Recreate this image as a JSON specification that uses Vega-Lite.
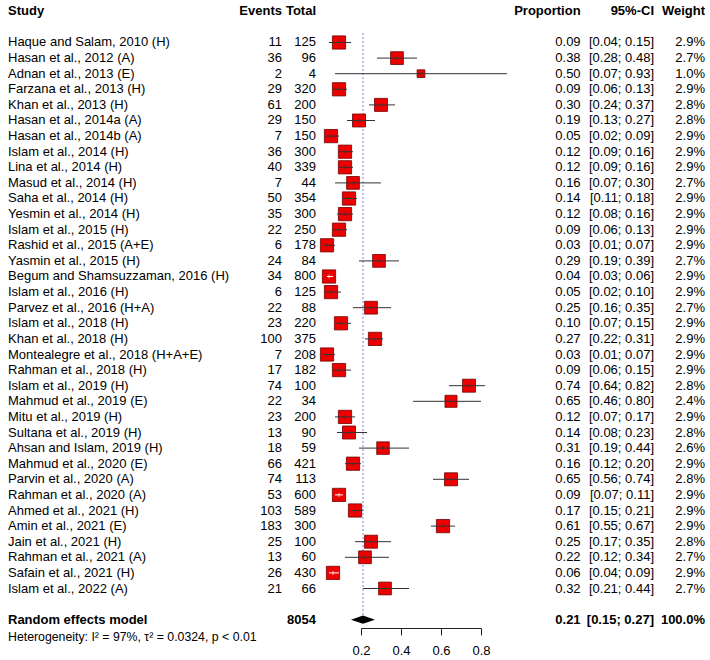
{
  "$schema": "https://vega.github.io/schema/vega-lite/v6.json",
  "padding": {"left": 8, "top": 1, "right": 0, "bottom": 0},
  "bounds": "flush",
  "spacing": 0,
  "config": {
    "view": {"stroke": null},
    "text": {"font": "Liberation Sans", "fontSize": 13, "color": "black"},
    "axisX": {"labelOverlap": false, "labelFlush": false, "labelBound": false}
  },
  "datasets": {
    "rows": [
      {"kind": "study", "study": "Haque and Salam, 2010 (H)", "events": 11, "total": 125, "prop": 0.09, "lo": 0.04, "hi": 0.15, "w": 0.029},
      {"kind": "study", "study": "Hasan et al., 2012 (A)", "events": 36, "total": 96, "prop": 0.38, "lo": 0.28, "hi": 0.48, "w": 0.027},
      {"kind": "study", "study": "Adnan et al., 2013 (E)", "events": 2, "total": 4, "prop": 0.50, "lo": 0.07, "hi": 0.93, "w": 0.010},
      {"kind": "study", "study": "Farzana et al., 2013 (H)", "events": 29, "total": 320, "prop": 0.09, "lo": 0.06, "hi": 0.13, "w": 0.029},
      {"kind": "study", "study": "Khan et al., 2013 (H)", "events": 61, "total": 200, "prop": 0.30, "lo": 0.24, "hi": 0.37, "w": 0.028},
      {"kind": "study", "study": "Hasan et al., 2014a (A)", "events": 29, "total": 150, "prop": 0.19, "lo": 0.13, "hi": 0.27, "w": 0.028},
      {"kind": "study", "study": "Hasan et al., 2014b (A)", "events": 7, "total": 150, "prop": 0.05, "lo": 0.02, "hi": 0.09, "w": 0.029},
      {"kind": "study", "study": "Islam et al., 2014 (H)", "events": 36, "total": 300, "prop": 0.12, "lo": 0.09, "hi": 0.16, "w": 0.029},
      {"kind": "study", "study": "Lina et al., 2014 (H)", "events": 40, "total": 339, "prop": 0.12, "lo": 0.09, "hi": 0.16, "w": 0.029},
      {"kind": "study", "study": "Masud et al., 2014 (H)", "events": 7, "total": 44, "prop": 0.16, "lo": 0.07, "hi": 0.30, "w": 0.027},
      {"kind": "study", "study": "Saha et al., 2014 (H)", "events": 50, "total": 354, "prop": 0.14, "lo": 0.11, "hi": 0.18, "w": 0.029},
      {"kind": "study", "study": "Yesmin et al., 2014 (H)", "events": 35, "total": 300, "prop": 0.12, "lo": 0.08, "hi": 0.16, "w": 0.029},
      {"kind": "study", "study": "Islam et al., 2015 (H)", "events": 22, "total": 250, "prop": 0.09, "lo": 0.06, "hi": 0.13, "w": 0.029},
      {"kind": "study", "study": "Rashid et al., 2015 (A+E)", "events": 6, "total": 178, "prop": 0.03, "lo": 0.01, "hi": 0.07, "w": 0.029},
      {"kind": "study", "study": "Yasmin et al., 2015 (H)", "events": 24, "total": 84, "prop": 0.29, "lo": 0.19, "hi": 0.39, "w": 0.027},
      {"kind": "study", "study": "Begum and Shamsuzzaman, 2016 (H)", "events": 34, "total": 800, "prop": 0.04, "lo": 0.03, "hi": 0.06, "w": 0.029},
      {"kind": "study", "study": "Islam et al., 2016 (H)", "events": 6, "total": 125, "prop": 0.05, "lo": 0.02, "hi": 0.10, "w": 0.029},
      {"kind": "study", "study": "Parvez et al., 2016 (H+A)", "events": 22, "total": 88, "prop": 0.25, "lo": 0.16, "hi": 0.35, "w": 0.027},
      {"kind": "study", "study": "Islam et al., 2018 (H)", "events": 23, "total": 220, "prop": 0.10, "lo": 0.07, "hi": 0.15, "w": 0.029},
      {"kind": "study", "study": "Khan et al., 2018 (H)", "events": 100, "total": 375, "prop": 0.27, "lo": 0.22, "hi": 0.31, "w": 0.029},
      {"kind": "study", "study": "Montealegre et al., 2018 (H+A+E)", "events": 7, "total": 208, "prop": 0.03, "lo": 0.01, "hi": 0.07, "w": 0.029},
      {"kind": "study", "study": "Rahman et al., 2018 (H)", "events": 17, "total": 182, "prop": 0.09, "lo": 0.06, "hi": 0.15, "w": 0.029},
      {"kind": "study", "study": "Islam et al., 2019 (H)", "events": 74, "total": 100, "prop": 0.74, "lo": 0.64, "hi": 0.82, "w": 0.028},
      {"kind": "study", "study": "Mahmud et al., 2019 (E)", "events": 22, "total": 34, "prop": 0.65, "lo": 0.46, "hi": 0.80, "w": 0.024},
      {"kind": "study", "study": "Mitu et al., 2019 (H)", "events": 23, "total": 200, "prop": 0.12, "lo": 0.07, "hi": 0.17, "w": 0.029},
      {"kind": "study", "study": "Sultana et al., 2019 (H)", "events": 13, "total": 90, "prop": 0.14, "lo": 0.08, "hi": 0.23, "w": 0.028},
      {"kind": "study", "study": "Ahsan and Islam, 2019 (H)", "events": 18, "total": 59, "prop": 0.31, "lo": 0.19, "hi": 0.44, "w": 0.026},
      {"kind": "study", "study": "Mahmud et al., 2020 (E)", "events": 66, "total": 421, "prop": 0.16, "lo": 0.12, "hi": 0.20, "w": 0.029},
      {"kind": "study", "study": "Parvin et al., 2020 (A)", "events": 74, "total": 113, "prop": 0.65, "lo": 0.56, "hi": 0.74, "w": 0.028},
      {"kind": "study", "study": "Rahman et al., 2020 (A)", "events": 53, "total": 600, "prop": 0.09, "lo": 0.07, "hi": 0.11, "w": 0.029},
      {"kind": "study", "study": "Ahmed et al., 2021 (H)", "events": 103, "total": 589, "prop": 0.17, "lo": 0.15, "hi": 0.21, "w": 0.029},
      {"kind": "study", "study": "Amin et al., 2021 (E)", "events": 183, "total": 300, "prop": 0.61, "lo": 0.55, "hi": 0.67, "w": 0.029},
      {"kind": "study", "study": "Jain et al., 2021 (H)", "events": 25, "total": 100, "prop": 0.25, "lo": 0.17, "hi": 0.35, "w": 0.028},
      {"kind": "study", "study": "Rahman et al., 2021 (A)", "events": 13, "total": 60, "prop": 0.22, "lo": 0.12, "hi": 0.34, "w": 0.027},
      {"kind": "study", "study": "Safain et al., 2021 (H)", "events": 26, "total": 430, "prop": 0.06, "lo": 0.04, "hi": 0.09, "w": 0.029},
      {"kind": "study", "study": "Islam et al., 2022 (A)", "events": 21, "total": 66, "prop": 0.32, "lo": 0.21, "hi": 0.44, "w": 0.027},
      {"kind": "pooled", "study": "Random effects model", "total": 8054, "prop": 0.21, "lo": 0.15, "hi": 0.27, "w": 1.0}
    ]
  },
  "hconcat": [
    {
      "width": 242,
      "height": 644.6,
      "data": {"name": "rows"},
      "encoding": {
        "y": {"field": "study", "type": "ordinal", "axis": null,
          "scale": {"type": "point", "padding": 0.66, "domain": ["hdr", "sp1", "Haque and Salam, 2010 (H)", "Hasan et al., 2012 (A)", "Adnan et al., 2013 (E)", "Farzana et al., 2013 (H)", "Khan et al., 2013 (H)", "Hasan et al., 2014a (A)", "Hasan et al., 2014b (A)", "Islam et al., 2014 (H)", "Lina et al., 2014 (H)", "Masud et al., 2014 (H)", "Saha et al., 2014 (H)", "Yesmin et al., 2014 (H)", "Islam et al., 2015 (H)", "Rashid et al., 2015 (A+E)", "Yasmin et al., 2015 (H)", "Begum and Shamsuzzaman, 2016 (H)", "Islam et al., 2016 (H)", "Parvez et al., 2016 (H+A)", "Islam et al., 2018 (H)", "Khan et al., 2018 (H)", "Montealegre et al., 2018 (H+A+E)", "Rahman et al., 2018 (H)", "Islam et al., 2019 (H)", "Mahmud et al., 2019 (E)", "Mitu et al., 2019 (H)", "Sultana et al., 2019 (H)", "Ahsan and Islam, 2019 (H)", "Mahmud et al., 2020 (E)", "Parvin et al., 2020 (A)", "Rahman et al., 2020 (A)", "Ahmed et al., 2021 (H)", "Amin et al., 2021 (E)", "Jain et al., 2021 (H)", "Rahman et al., 2021 (A)", "Safain et al., 2021 (H)", "Islam et al., 2022 (A)", "sp2", "Random effects model", "het"]}}
      },
      "layer": [
        {"data": {"values": [{"study": "hdr"}]}, "mark": {"type": "text", "align": "left", "x": 0, "fontWeight": "bold"}, "encoding": {"text": {"value": "Study"}}},
        {"transform": [{"filter": "datum.kind == 'study'"}], "mark": {"type": "text", "align": "left", "x": 0}, "encoding": {"text": {"field": "study"}}},
        {"transform": [{"filter": "datum.kind == 'pooled'"}], "mark": {"type": "text", "align": "left", "x": 0, "fontWeight": "bold"}, "encoding": {"text": {"field": "study"}}},
        {"data": {"values": [{"study": "het"}]}, "mark": {"type": "text", "align": "left", "x": 0, "fontSize": 12.3, "dy": 2}, "encoding": {"text": {"value": "Heterogeneity: I² = 97%, τ² = 0.0324, p < 0.01"}}}
      ]
    },
    {
      "width": 32,
      "height": 629,
      "data": {"name": "rows"},
      "encoding": {
        "y": {"field": "study", "type": "ordinal", "axis": null,
          "scale": {"type": "point", "padding": 0.66, "domain": ["hdr", "sp1", "Haque and Salam, 2010 (H)", "Hasan et al., 2012 (A)", "Adnan et al., 2013 (E)", "Farzana et al., 2013 (H)", "Khan et al., 2013 (H)", "Hasan et al., 2014a (A)", "Hasan et al., 2014b (A)", "Islam et al., 2014 (H)", "Lina et al., 2014 (H)", "Masud et al., 2014 (H)", "Saha et al., 2014 (H)", "Yesmin et al., 2014 (H)", "Islam et al., 2015 (H)", "Rashid et al., 2015 (A+E)", "Yasmin et al., 2015 (H)", "Begum and Shamsuzzaman, 2016 (H)", "Islam et al., 2016 (H)", "Parvez et al., 2016 (H+A)", "Islam et al., 2018 (H)", "Khan et al., 2018 (H)", "Montealegre et al., 2018 (H+A+E)", "Rahman et al., 2018 (H)", "Islam et al., 2019 (H)", "Mahmud et al., 2019 (E)", "Mitu et al., 2019 (H)", "Sultana et al., 2019 (H)", "Ahsan and Islam, 2019 (H)", "Mahmud et al., 2020 (E)", "Parvin et al., 2020 (A)", "Rahman et al., 2020 (A)", "Ahmed et al., 2021 (H)", "Amin et al., 2021 (E)", "Jain et al., 2021 (H)", "Rahman et al., 2021 (A)", "Safain et al., 2021 (H)", "Islam et al., 2022 (A)", "sp2", "Random effects model"]}}
      },
      "layer": [
        {"data": {"values": [{"study": "hdr"}]}, "mark": {"type": "text", "align": "right", "x": "width", "fontWeight": "bold"}, "encoding": {"text": {"value": "Events"}}},
        {"transform": [{"filter": "datum.kind == 'study'"}], "mark": {"type": "text", "align": "right", "x": "width"}, "encoding": {"text": {"field": "events", "type": "quantitative", "format": "d"}}}
      ]
    },
    {
      "width": 34,
      "height": 629,
      "data": {"name": "rows"},
      "encoding": {
        "y": {"field": "study", "type": "ordinal", "axis": null,
          "scale": {"type": "point", "padding": 0.66, "domain": ["hdr", "sp1", "Haque and Salam, 2010 (H)", "Hasan et al., 2012 (A)", "Adnan et al., 2013 (E)", "Farzana et al., 2013 (H)", "Khan et al., 2013 (H)", "Hasan et al., 2014a (A)", "Hasan et al., 2014b (A)", "Islam et al., 2014 (H)", "Lina et al., 2014 (H)", "Masud et al., 2014 (H)", "Saha et al., 2014 (H)", "Yesmin et al., 2014 (H)", "Islam et al., 2015 (H)", "Rashid et al., 2015 (A+E)", "Yasmin et al., 2015 (H)", "Begum and Shamsuzzaman, 2016 (H)", "Islam et al., 2016 (H)", "Parvez et al., 2016 (H+A)", "Islam et al., 2018 (H)", "Khan et al., 2018 (H)", "Montealegre et al., 2018 (H+A+E)", "Rahman et al., 2018 (H)", "Islam et al., 2019 (H)", "Mahmud et al., 2019 (E)", "Mitu et al., 2019 (H)", "Sultana et al., 2019 (H)", "Ahsan and Islam, 2019 (H)", "Mahmud et al., 2020 (E)", "Parvin et al., 2020 (A)", "Rahman et al., 2020 (A)", "Ahmed et al., 2021 (H)", "Amin et al., 2021 (E)", "Jain et al., 2021 (H)", "Rahman et al., 2021 (A)", "Safain et al., 2021 (H)", "Islam et al., 2022 (A)", "sp2", "Random effects model"]}}
      },
      "layer": [
        {"data": {"values": [{"study": "hdr"}]}, "mark": {"type": "text", "align": "right", "x": "width", "fontWeight": "bold"}, "encoding": {"text": {"value": "Total"}}},
        {"transform": [{"filter": "datum.kind == 'study'"}], "mark": {"type": "text", "align": "right", "x": "width"}, "encoding": {"text": {"field": "total", "type": "quantitative", "format": "d"}}},
        {"transform": [{"filter": "datum.kind == 'pooled'"}], "mark": {"type": "text", "align": "right", "x": "width", "fontWeight": "bold"}, "encoding": {"text": {"field": "total", "type": "quantitative", "format": "d"}}}
      ]
    },
    {
      "width": 44.7,
      "height": 10,
      "data": {"values": [{"a": 1}]},
      "mark": {"type": "point", "opacity": 0},
      "encoding": {}
    },
    {
      "width": 120,
      "height": 629,
      "data": {"name": "rows"},
      "encoding": {
        "y": {"field": "study", "type": "ordinal", "axis": null,
          "scale": {"type": "point", "padding": 0.66, "domain": ["hdr", "sp1", "Haque and Salam, 2010 (H)", "Hasan et al., 2012 (A)", "Adnan et al., 2013 (E)", "Farzana et al., 2013 (H)", "Khan et al., 2013 (H)", "Hasan et al., 2014a (A)", "Hasan et al., 2014b (A)", "Islam et al., 2014 (H)", "Lina et al., 2014 (H)", "Masud et al., 2014 (H)", "Saha et al., 2014 (H)", "Yesmin et al., 2014 (H)", "Islam et al., 2015 (H)", "Rashid et al., 2015 (A+E)", "Yasmin et al., 2015 (H)", "Begum and Shamsuzzaman, 2016 (H)", "Islam et al., 2016 (H)", "Parvez et al., 2016 (H+A)", "Islam et al., 2018 (H)", "Khan et al., 2018 (H)", "Montealegre et al., 2018 (H+A+E)", "Rahman et al., 2018 (H)", "Islam et al., 2019 (H)", "Mahmud et al., 2019 (E)", "Mitu et al., 2019 (H)", "Sultana et al., 2019 (H)", "Ahsan and Islam, 2019 (H)", "Mahmud et al., 2020 (E)", "Parvin et al., 2020 (A)", "Rahman et al., 2020 (A)", "Ahmed et al., 2021 (H)", "Amin et al., 2021 (E)", "Jain et al., 2021 (H)", "Rahman et al., 2021 (A)", "Safain et al., 2021 (H)", "Islam et al., 2022 (A)", "sp2", "Random effects model"]}}
      },
      "layer": [
        {
          "data": {"values": [{"ref": 0.21}]},
          "mark": {"type": "rule", "strokeDash": [2, 2], "color": "#7f7fd6", "strokeWidth": 1, "yOffset": -9.5, "y2Offset": -3},
          "encoding": {
            "x": {"field": "ref", "type": "quantitative", "scale": {"domain": [0.2, 0.8], "nice": false, "zero": false},
              "axis": {"title": null, "values": [0.2, 0.4, 0.6, 0.8], "format": ".1f", "grid": false, "tickSize": 7, "labelFontSize": 13, "labelFont": "Liberation Sans", "labelColor": "black", "domainColor": "#222", "tickColor": "#222", "labelPadding": 9, "labelFlush": false, "labelOverlap": false, "labelBound": false, "offset": -2}},
            "y": {"datum": "Haque and Salam, 2010 (H)"},
            "y2": {"datum": "Random effects model"}
          }
        },
        {
          "transform": [{"filter": "datum.kind == 'study'"}],
          "mark": {"type": "square", "filled": true, "fill": "#ee0000", "stroke": "#6e0000", "strokeWidth": 0.8, "opacity": 1},
          "encoding": {
            "x": {"field": "prop", "type": "quantitative", "scale": {"domain": [0.2, 0.8], "nice": false, "zero": false},
              "axis": {"title": null, "values": [0.2, 0.4, 0.6, 0.8], "format": ".1f", "grid": false, "tickSize": 7, "labelFontSize": 13, "labelFont": "Liberation Sans", "labelColor": "black", "domainColor": "#222", "tickColor": "#222", "labelPadding": 9, "labelFlush": false, "labelOverlap": false, "labelBound": false, "offset": -2}},
            "size": {"field": "w", "type": "quantitative", "scale": {"domain": [0, 0.029], "range": [0, 175], "zero": true}, "legend": null}
          }
        },
        {
          "transform": [{"filter": "datum.kind == 'study'"}],
          "mark": {"type": "rule", "strokeWidth": 1},
          "encoding": {
            "x": {"field": "lo", "type": "quantitative", "scale": {"domain": [0.2, 0.8], "nice": false, "zero": false},
              "axis": {"title": null, "values": [0.2, 0.4, 0.6, 0.8], "format": ".1f", "grid": false, "tickSize": 7, "labelFontSize": 13, "labelFont": "Liberation Sans", "labelColor": "black", "domainColor": "#222", "tickColor": "#222", "labelPadding": 9, "labelFlush": false, "labelOverlap": false, "labelBound": false, "offset": -2}},
            "x2": {"field": "hi"},
            "color": {"condition": {"test": "datum.prop - datum.lo < 0.033 && datum.hi - datum.prop < 0.033", "value": "white"}, "value": "#333333"}
          }
        },
        {
          "transform": [{"filter": "datum.kind == 'study'"}],
          "mark": {"type": "tick", "size": 4, "thickness": 1},
          "encoding": {
            "x": {"field": "prop", "type": "quantitative", "scale": {"domain": [0.2, 0.8], "nice": false, "zero": false},
              "axis": {"title": null, "values": [0.2, 0.4, 0.6, 0.8], "format": ".1f", "grid": false, "tickSize": 7, "labelFontSize": 13, "labelFont": "Liberation Sans", "labelColor": "black", "domainColor": "#222", "tickColor": "#222", "labelPadding": 9, "labelFlush": false, "labelOverlap": false, "labelBound": false, "offset": -2}},
            "color": {"condition": {"test": "datum.prop - datum.lo < 0.033 && datum.hi - datum.prop < 0.033", "value": "white"}, "value": "#333333"}
          }
        },
        {
          "transform": [{"filter": "datum.kind == 'pooled'"}],
          "mark": {"type": "point", "shape": "M-1,0L0,-0.34L1,0L0,0.34Z", "filled": true, "color": "black", "size": 576, "opacity": 1},
          "encoding": {
            "x": {"field": "prop", "type": "quantitative", "scale": {"domain": [0.2, 0.8], "nice": false, "zero": false},
              "axis": {"title": null, "values": [0.2, 0.4, 0.6, 0.8], "format": ".1f", "grid": false, "tickSize": 7, "labelFontSize": 13, "labelFont": "Liberation Sans", "labelColor": "black", "domainColor": "#222", "tickColor": "#222", "labelPadding": 9, "labelFlush": false, "labelOverlap": false, "labelBound": false, "offset": -2}}
          }
        }
      ]
    },
    {
      "width": 44.7,
      "height": 10,
      "data": {"values": [{"a": 1}]},
      "mark": {"type": "point", "opacity": 0},
      "encoding": {}
    },
    {
      "width": 54.6,
      "height": 629,
      "data": {"name": "rows"},
      "encoding": {
        "y": {"field": "study", "type": "ordinal", "axis": null,
          "scale": {"type": "point", "padding": 0.66, "domain": ["hdr", "sp1", "Haque and Salam, 2010 (H)", "Hasan et al., 2012 (A)", "Adnan et al., 2013 (E)", "Farzana et al., 2013 (H)", "Khan et al., 2013 (H)", "Hasan et al., 2014a (A)", "Hasan et al., 2014b (A)", "Islam et al., 2014 (H)", "Lina et al., 2014 (H)", "Masud et al., 2014 (H)", "Saha et al., 2014 (H)", "Yesmin et al., 2014 (H)", "Islam et al., 2015 (H)", "Rashid et al., 2015 (A+E)", "Yasmin et al., 2015 (H)", "Begum and Shamsuzzaman, 2016 (H)", "Islam et al., 2016 (H)", "Parvez et al., 2016 (H+A)", "Islam et al., 2018 (H)", "Khan et al., 2018 (H)", "Montealegre et al., 2018 (H+A+E)", "Rahman et al., 2018 (H)", "Islam et al., 2019 (H)", "Mahmud et al., 2019 (E)", "Mitu et al., 2019 (H)", "Sultana et al., 2019 (H)", "Ahsan and Islam, 2019 (H)", "Mahmud et al., 2020 (E)", "Parvin et al., 2020 (A)", "Rahman et al., 2020 (A)", "Ahmed et al., 2021 (H)", "Amin et al., 2021 (E)", "Jain et al., 2021 (H)", "Rahman et al., 2021 (A)", "Safain et al., 2021 (H)", "Islam et al., 2022 (A)", "sp2", "Random effects model"]}}
      },
      "layer": [
        {"data": {"values": [{"study": "hdr"}]}, "mark": {"type": "text", "align": "right", "x": "width", "fontWeight": "bold"}, "encoding": {"text": {"value": "Proportion"}}},
        {"transform": [{"filter": "datum.kind == 'study'"}], "mark": {"type": "text", "align": "right", "x": "width"}, "encoding": {"text": {"field": "prop", "type": "quantitative", "format": ".2f"}}},
        {"transform": [{"filter": "datum.kind == 'pooled'"}], "mark": {"type": "text", "align": "right", "x": "width", "fontWeight": "bold"}, "encoding": {"text": {"field": "prop", "type": "quantitative", "format": ".2f"}}}
      ]
    },
    {
      "width": 73,
      "height": 629,
      "data": {"name": "rows"},
      "transform": [{"calculate": "'[' + format(datum.lo, '.2f') + '; ' + format(datum.hi, '.2f') + ']'", "as": "ci"}],
      "encoding": {
        "y": {"field": "study", "type": "ordinal", "axis": null,
          "scale": {"type": "point", "padding": 0.66, "domain": ["hdr", "sp1", "Haque and Salam, 2010 (H)", "Hasan et al., 2012 (A)", "Adnan et al., 2013 (E)", "Farzana et al., 2013 (H)", "Khan et al., 2013 (H)", "Hasan et al., 2014a (A)", "Hasan et al., 2014b (A)", "Islam et al., 2014 (H)", "Lina et al., 2014 (H)", "Masud et al., 2014 (H)", "Saha et al., 2014 (H)", "Yesmin et al., 2014 (H)", "Islam et al., 2015 (H)", "Rashid et al., 2015 (A+E)", "Yasmin et al., 2015 (H)", "Begum and Shamsuzzaman, 2016 (H)", "Islam et al., 2016 (H)", "Parvez et al., 2016 (H+A)", "Islam et al., 2018 (H)", "Khan et al., 2018 (H)", "Montealegre et al., 2018 (H+A+E)", "Rahman et al., 2018 (H)", "Islam et al., 2019 (H)", "Mahmud et al., 2019 (E)", "Mitu et al., 2019 (H)", "Sultana et al., 2019 (H)", "Ahsan and Islam, 2019 (H)", "Mahmud et al., 2020 (E)", "Parvin et al., 2020 (A)", "Rahman et al., 2020 (A)", "Ahmed et al., 2021 (H)", "Amin et al., 2021 (E)", "Jain et al., 2021 (H)", "Rahman et al., 2021 (A)", "Safain et al., 2021 (H)", "Islam et al., 2022 (A)", "sp2", "Random effects model"]}}
      },
      "layer": [
        {"data": {"values": [{"study": "hdr"}]}, "mark": {"type": "text", "align": "right", "x": "width", "fontWeight": "bold"}, "encoding": {"text": {"value": "95%-CI"}}},
        {"transform": [{"filter": "datum.kind == 'study'"}], "mark": {"type": "text", "align": "right", "x": "width"}, "encoding": {"text": {"field": "ci"}}},
        {"transform": [{"filter": "datum.kind == 'pooled'"}], "mark": {"type": "text", "align": "right", "x": "width", "fontWeight": "bold"}, "encoding": {"text": {"field": "ci"}}}
      ]
    },
    {
      "width": 51,
      "height": 629,
      "data": {"name": "rows"},
      "encoding": {
        "y": {"field": "study", "type": "ordinal", "axis": null,
          "scale": {"type": "point", "padding": 0.66, "domain": ["hdr", "sp1", "Haque and Salam, 2010 (H)", "Hasan et al., 2012 (A)", "Adnan et al., 2013 (E)", "Farzana et al., 2013 (H)", "Khan et al., 2013 (H)", "Hasan et al., 2014a (A)", "Hasan et al., 2014b (A)", "Islam et al., 2014 (H)", "Lina et al., 2014 (H)", "Masud et al., 2014 (H)", "Saha et al., 2014 (H)", "Yesmin et al., 2014 (H)", "Islam et al., 2015 (H)", "Rashid et al., 2015 (A+E)", "Yasmin et al., 2015 (H)", "Begum and Shamsuzzaman, 2016 (H)", "Islam et al., 2016 (H)", "Parvez et al., 2016 (H+A)", "Islam et al., 2018 (H)", "Khan et al., 2018 (H)", "Montealegre et al., 2018 (H+A+E)", "Rahman et al., 2018 (H)", "Islam et al., 2019 (H)", "Mahmud et al., 2019 (E)", "Mitu et al., 2019 (H)", "Sultana et al., 2019 (H)", "Ahsan and Islam, 2019 (H)", "Mahmud et al., 2020 (E)", "Parvin et al., 2020 (A)", "Rahman et al., 2020 (A)", "Ahmed et al., 2021 (H)", "Amin et al., 2021 (E)", "Jain et al., 2021 (H)", "Rahman et al., 2021 (A)", "Safain et al., 2021 (H)", "Islam et al., 2022 (A)", "sp2", "Random effects model"]}}
      },
      "layer": [
        {"data": {"values": [{"study": "hdr"}]}, "mark": {"type": "text", "align": "right", "x": "width", "fontWeight": "bold"}, "encoding": {"text": {"value": "Weight"}}},
        {"transform": [{"filter": "datum.kind == 'study'"}], "mark": {"type": "text", "align": "right", "x": "width"}, "encoding": {"text": {"field": "w", "type": "quantitative", "format": ".1%"}}},
        {"transform": [{"filter": "datum.kind == 'pooled'"}], "mark": {"type": "text", "align": "right", "x": "width", "fontWeight": "bold"}, "encoding": {"text": {"field": "w", "type": "quantitative", "format": ".1%"}}}
      ]
    }
  ]
}
